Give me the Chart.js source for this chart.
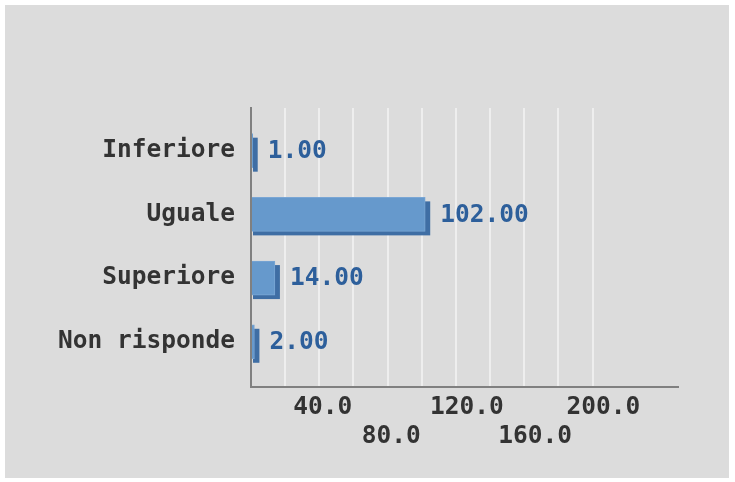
<!DOCTYPE html>
<html>
<head>
<meta charset="utf-8">
<title>Confronto</title>
<script src="https://cdn.jsdelivr.net/npm/chart.js@4"></script>
<style>
  html, body { margin: 0; padding: 0; background: #ffffff; }
  #frame { position: absolute; left: 5px; top: 5px; width: 724px; height: 473px; background: #dcdcdc; }
</style>
</head>
<body>
<div id="frame"><canvas id="chart" width="724" height="473"></canvas></div>
<script>
// data
const categories = ['Inferiore', 'Uguale', 'Superiore', 'Non risponde'];
const counts = [1, 102, 14, 2];
const gridValues = [0, 20, 40, 60, 80, 100, 120, 140, 160, 180, 200];
const labelValues = [40, 80, 120, 160, 200];

const FONT = { family: '"DejaVu Sans Mono", monospace', size: 24.5, weight: 'bold' };

// darker block behind each bar for the raised look
const barShadow = {
  id: 'barShadow',
  beforeDatasetsDraw(chart) {
    const ctx = chart.ctx;
    const meta = chart.getDatasetMeta(0);
    ctx.save();
    ctx.fillStyle = '#3f6ea4';
    meta.data.forEach(bar => {
      const { x, y, base, height } = bar.getProps(['x', 'y', 'base', 'height'], true);
      ctx.fillRect(base + 1, y - height / 2 + 4, x - base + 4, height);
    });
    ctx.restore();
  }
};

const valueLabels = {
  id: 'valueLabels',
  afterDatasetsDraw(chart) {
    const ctx = chart.ctx;
    const meta = chart.getDatasetMeta(0);
    ctx.save();
    ctx.font = `bold ${FONT.size}px ${FONT.family}`;
    ctx.fillStyle = '#2d5f9b';
    ctx.textAlign = 'left';
    ctx.textBaseline = 'middle';
    meta.data.forEach((bar, i) => {
      ctx.fillText(counts[i].toFixed(2), bar.x + 15, bar.y + 1);
    });
    ctx.restore();
  }
};

new Chart(document.getElementById('chart'), {
  type: 'bar',
  data: {
    datasets: [{
      data: counts.map((v, i) => ({ x: v, y: i })),
      backgroundColor: '#6699cc',
      borderColor: '#7aa6d4',
      borderWidth: 1,
      barThickness: 34
    }]
  },
  options: {
    indexAxis: 'y',
    responsive: false,
    animation: false,
    layout: { padding: { left: 0, right: 51, top: 103, bottom: 0 } },
    plugins: { legend: { display: false }, tooltip: { enabled: false } },
    scales: {
      x: {
        type: 'linear',
        min: 0,
        max: 250,
        afterBuildTicks: s => { s.ticks = gridValues.map(v => ({ value: v })); },
        afterFit: s => { s.height = 91; },
        grid: { color: '#eeeeee', lineWidth: 2, drawTicks: false },
        border: { color: '#808080', width: 2 },
        ticks: {
          autoSkip: false,
          maxRotation: 0,
          align: 'start',
          labelOffset: -26,
          padding: 6,
          color: '#333333',
          font: FONT,
          callback: v => {
            const k = labelValues.indexOf(v);
            if (k < 0) return '';
            const txt = v.toFixed(1);
            return k % 2 === 0 ? txt : ['', txt];
          }
        }
      },
      y: {
        type: 'linear',
        reverse: true,
        offset: false,
        min: -0.67,
        max: 3.71,
        afterBuildTicks: s => { s.ticks = categories.map((c, i) => ({ value: i })); },
        afterFit: s => { s.width = 246; },
        grid: { display: false, drawTicks: false },
        border: { color: '#808080', width: 2 },
        ticks: {
          autoSkip: false,
          padding: 16,
          color: '#333333',
          font: FONT,
          callback: v => categories[v]
        }
      }
    }
  },
  plugins: [barShadow, valueLabels]
});
</script>
</body>
</html>
